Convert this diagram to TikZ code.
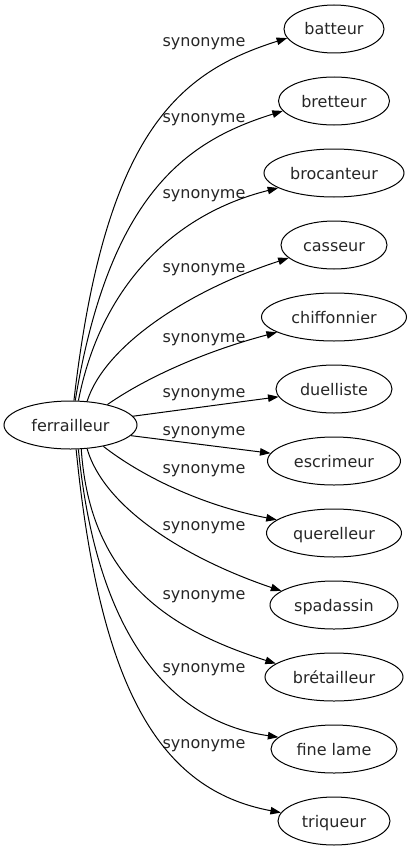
\documentclass[tikz,border=0pt]{standalone}
\usepackage{fontspec}
\setmainfont{DejaVu Sans}
\usetikzlibrary{shapes.geometric,arrows.meta}
\begin{document}
\begin{tikzpicture}[x=1pt,y=-1pt,
  every node/.style={font=\fontsize{16}{19}\selectfont, text=black!85},
  word/.style={draw=black, ellipse, line width=1pt, inner sep=0pt, minimum height=48pt,
    text height=12pt, text depth=0pt, align=center},
  lbl/.style={anchor=base, inner sep=0pt},
  edge/.style={line width=1pt, -{Triangle[length=10.5pt,width=7.5pt]}}]
\useasboundingbox (0,0) rectangle (412,851);
\node[word, minimum width=133pt] (f) at (70.5,425) {ferrailleur};
\node[word, minimum width=100pt] (t1) at (334,29) {batteur};
\node[word, minimum width=111pt] (t2) at (334,101) {bretteur};
\node[word, minimum width=140pt] (t3) at (334,173) {brocanteur};
\node[word, minimum width=106pt] (t4) at (334,245) {casseur};
\node[word, minimum width=145pt] (t5) at (334,317) {chiffonnier};
\node[word, minimum width=116pt] (t6) at (334,389) {duelliste};
\node[word, minimum width=133pt] (t7) at (334,461) {escrimeur};
\node[word, minimum width=135pt] (t8) at (334,533) {querelleur};
\node[word, minimum width=128pt] (t9) at (334,605) {spadassin};
\node[word, minimum width=138pt] (t10) at (334,677) {brétailleur};
\node[word, minimum width=126pt] (t11) at (334,749) {fine lame};
\node[word, minimum width=112pt] (t12) at (334,821) {triqueur};

\node[lbl] (l1) at (204,46.5) {synonyme};
\node[lbl] (l2) at (204,122) {synonyme};
\node[lbl] (l3) at (204,198) {synonyme};
\node[lbl] (l4) at (204,272.5) {synonyme};
\node[lbl] (l5) at (204,342) {synonyme};
\node[lbl] (l6) at (204,397.5) {synonyme};
\node[lbl] (l7) at (204,435) {synonyme};
\node[lbl] (l8) at (204,473) {synonyme};
\node[lbl] (l9) at (204,530) {synonyme};
\node[lbl] (l10) at (204,599.5) {synonyme};
\node[lbl] (l11) at (204,672) {synonyme};
\node[lbl] (l12) at (204,748.5) {synonyme};

\draw[edge] (f.82) .. controls (105,130) and (180,72) .. (t1.191);
\draw[edge] (f.79) .. controls (110,190) and (190,140) .. (t2.191);
\draw[edge] (f.72) .. controls (100,290) and (170,215) .. (t3.195);
\draw[edge] (f.55) .. controls (105,345) and (190,290) .. (t4.196);
\draw[edge] (f.29) .. controls (150,375) and (210,350) .. (t5.195);
\draw[edge] (f.8) -- (t6.188);
\draw[edge] (f.-10) -- (t7.173);
\draw[edge] (f.-33) .. controls (140,475) and (200,505) .. (t8.167);
\draw[edge] (f.-55) .. controls (105,510) and (190,560) .. (t9.165);
\draw[edge] (f.-66) .. controls (90,580) and (170,630) .. (t10.167);
\draw[edge] (f.-72) .. controls (95,620) and (160,720) .. (t11.168);
\draw[edge] (f.-77) .. controls (100,690) and (160,790) .. (t12.171);
\end{tikzpicture}
\end{document}
